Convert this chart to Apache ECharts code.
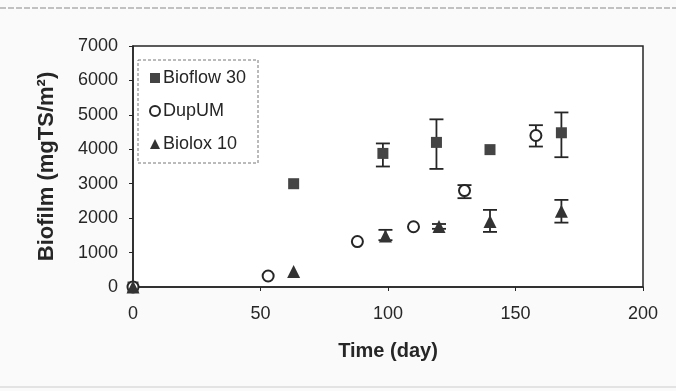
<!DOCTYPE html>
<html>
<head>
<meta charset="utf-8">
<script src="https://cdn.jsdelivr.net/npm/echarts@6/dist/echarts.min.js"></script>
<style>
  html, body { margin: 0; padding: 0; background: #fafafa; }
  #chart { width: 676px; height: 391px; }
</style>
</head>
<body>
<div id="chart"></div>
<script>
const xTicks = [0, 50, 100, 150, 200];
const yTicks = [0, 1000, 2000, 3000, 4000, 5000, 6000, 7000];

const bioflowDays = [0, 63, 98, 119, 140, 168];
const bioflowVals = [0, 3000, 3880, 4200, 3990, 4480];
const bioflowLow = [null, null, 3500, 3430, null, 3770];
const bioflowHigh = [null, null, 4170, 4870, null, 5070];

const dupumDays = [0, 53, 88, 110, 130, 158];
const dupumVals = [0, 320, 1320, 1750, 2800, 4400];
const dupumLow = [null, null, null, null, 2580, 4080];
const dupumHigh = [null, null, null, null, 2960, 4700];

const bioloxDays = [0, 63, 99, 120, 140, 168];
const bioloxVals = [0, 450, 1480, 1760, 1900, 2200];
const bioloxLow = [null, null, 1360, 1690, 1600, 1870];
const bioloxHigh = [null, null, 1660, 1830, 2240, 2530];

const font = 'Liberation Sans, Arial, sans-serif';
const ink = '#262626';

const pairs = (xs, ys) => xs.map((x, i) => [x, ys[i]]);
const bars = (xs, lo, hi) =>
  xs.map((x, i) => [x, lo[i], hi[i]]).filter(d => d[1] !== null);

const errorSeries = (data) => ({
  type: 'custom',
  silent: true,
  z: 1,
  data: data,
  renderItem: (params, api) => {
    const top = api.coord([api.value(0), api.value(2)]);
    const bot = api.coord([api.value(0), api.value(1)]);
    const w = 7;
    const style = { stroke: ink, lineWidth: 1.8 };
    return {
      type: 'group',
      children: [
        { type: 'line', shape: { x1: top[0], y1: top[1], x2: bot[0], y2: bot[1] }, style },
        { type: 'line', shape: { x1: top[0] - w, y1: top[1], x2: top[0] + w, y2: top[1] }, style },
        { type: 'line', shape: { x1: bot[0] - w, y1: bot[1], x2: bot[0] + w, y2: bot[1] }, style }
      ]
    };
  }
});

const chart = echarts.init(document.getElementById('chart'));

chart.setOption({
  backgroundColor: '#fafafa',
  animation: false,
  textStyle: { fontFamily: font },
  grid: {
    left: 133, right: 33, top: 46, bottom: 104,
    show: true, backgroundColor: '#ffffff',
    borderColor: ink, borderWidth: 1.5
  },
  graphic: [
    { type: 'line', shape: { x1: 0, y1: 8, x2: 676, y2: 8 },
      style: { stroke: '#888', lineWidth: 1, lineDash: [6, 2] } },
    { type: 'line', shape: { x1: 0, y1: 387, x2: 676, y2: 387 },
      style: { stroke: '#ccc', lineWidth: 1 } },
    { type: 'rect', shape: { x: 138, y: 60, width: 120, height: 103 },
      style: { fill: '#fff', stroke: '#777', lineWidth: 1, lineDash: [3, 2] }, z: 5 }
  ],
  legend: {
    orient: 'vertical',
    left: 144, top: 64,
    itemGap: 15,
    itemWidth: 10, itemHeight: 10,
    z: 10,
    textStyle: { fontFamily: font, fontSize: 18, color: ink, padding: [0, 0, 0, -2] },
    data: [
      { name: 'Bioflow 30', icon: 'rect', itemStyle: { color: '#444' } },
      { name: 'DupUM', icon: 'circle', itemStyle: { color: '#fff', borderColor: ink, borderWidth: 2 } },
      { name: 'Biolox 10', icon: 'triangle', itemStyle: { color: '#333' } }
    ]
  },
  xAxis: {
    type: 'value',
    min: 0, max: 200, interval: 50,
    name: 'Time (day)',
    nameLocation: 'middle',
    nameGap: 54,
    nameTextStyle: { fontFamily: font, fontSize: 20, fontWeight: 'bold', color: ink },
    axisLine: { show: true, onZero: false, lineStyle: { color: ink, width: 1.5 } },
    axisTick: { show: true, length: 4, lineStyle: { color: ink } },
    axisLabel: { fontFamily: font, fontSize: 18, color: ink, margin: 18,
      formatter: v => xTicks.includes(v) ? String(v) : '' },
    splitLine: { show: false }
  },
  yAxis: {
    type: 'value',
    min: 0, max: 7000, interval: 1000,
    name: 'Biofilm (mgTS/m²)',
    nameLocation: 'middle',
    nameGap: 75,
    nameRotate: 90,
    nameTextStyle: { fontFamily: font, fontSize: 22, fontWeight: 'bold', color: ink },
    axisLine: { show: true, lineStyle: { color: ink, width: 1.5 } },
    axisTick: { show: true, length: 4, lineStyle: { color: ink } },
    axisLabel: { fontFamily: font, fontSize: 18, color: ink, margin: 15,
      formatter: v => yTicks.includes(v) ? String(v) : '' },
    splitLine: { show: false }
  },
  series: [
    errorSeries(bars(bioflowDays, bioflowLow, bioflowHigh)),
    errorSeries(bars(dupumDays, dupumLow, dupumHigh)),
    errorSeries(bars(bioloxDays, bioloxLow, bioloxHigh)),
    {
      name: 'Bioflow 30', type: 'scatter', z: 3,
      symbol: 'rect', symbolSize: 11,
      itemStyle: { color: '#444', opacity: 1 },
      data: pairs(bioflowDays, bioflowVals)
    },
    {
      name: 'DupUM', type: 'scatter', z: 3,
      symbol: 'circle', symbolSize: 11,
      itemStyle: { color: '#fff', borderColor: ink, borderWidth: 2, opacity: 1 },
      data: pairs(dupumDays, dupumVals)
    },
    {
      name: 'Biolox 10', type: 'scatter', z: 3,
      symbol: 'triangle', symbolSize: 13,
      itemStyle: { color: '#333', opacity: 1 },
      data: pairs(bioloxDays, bioloxVals)
    }
  ]
});
</script>
</body>
</html>
